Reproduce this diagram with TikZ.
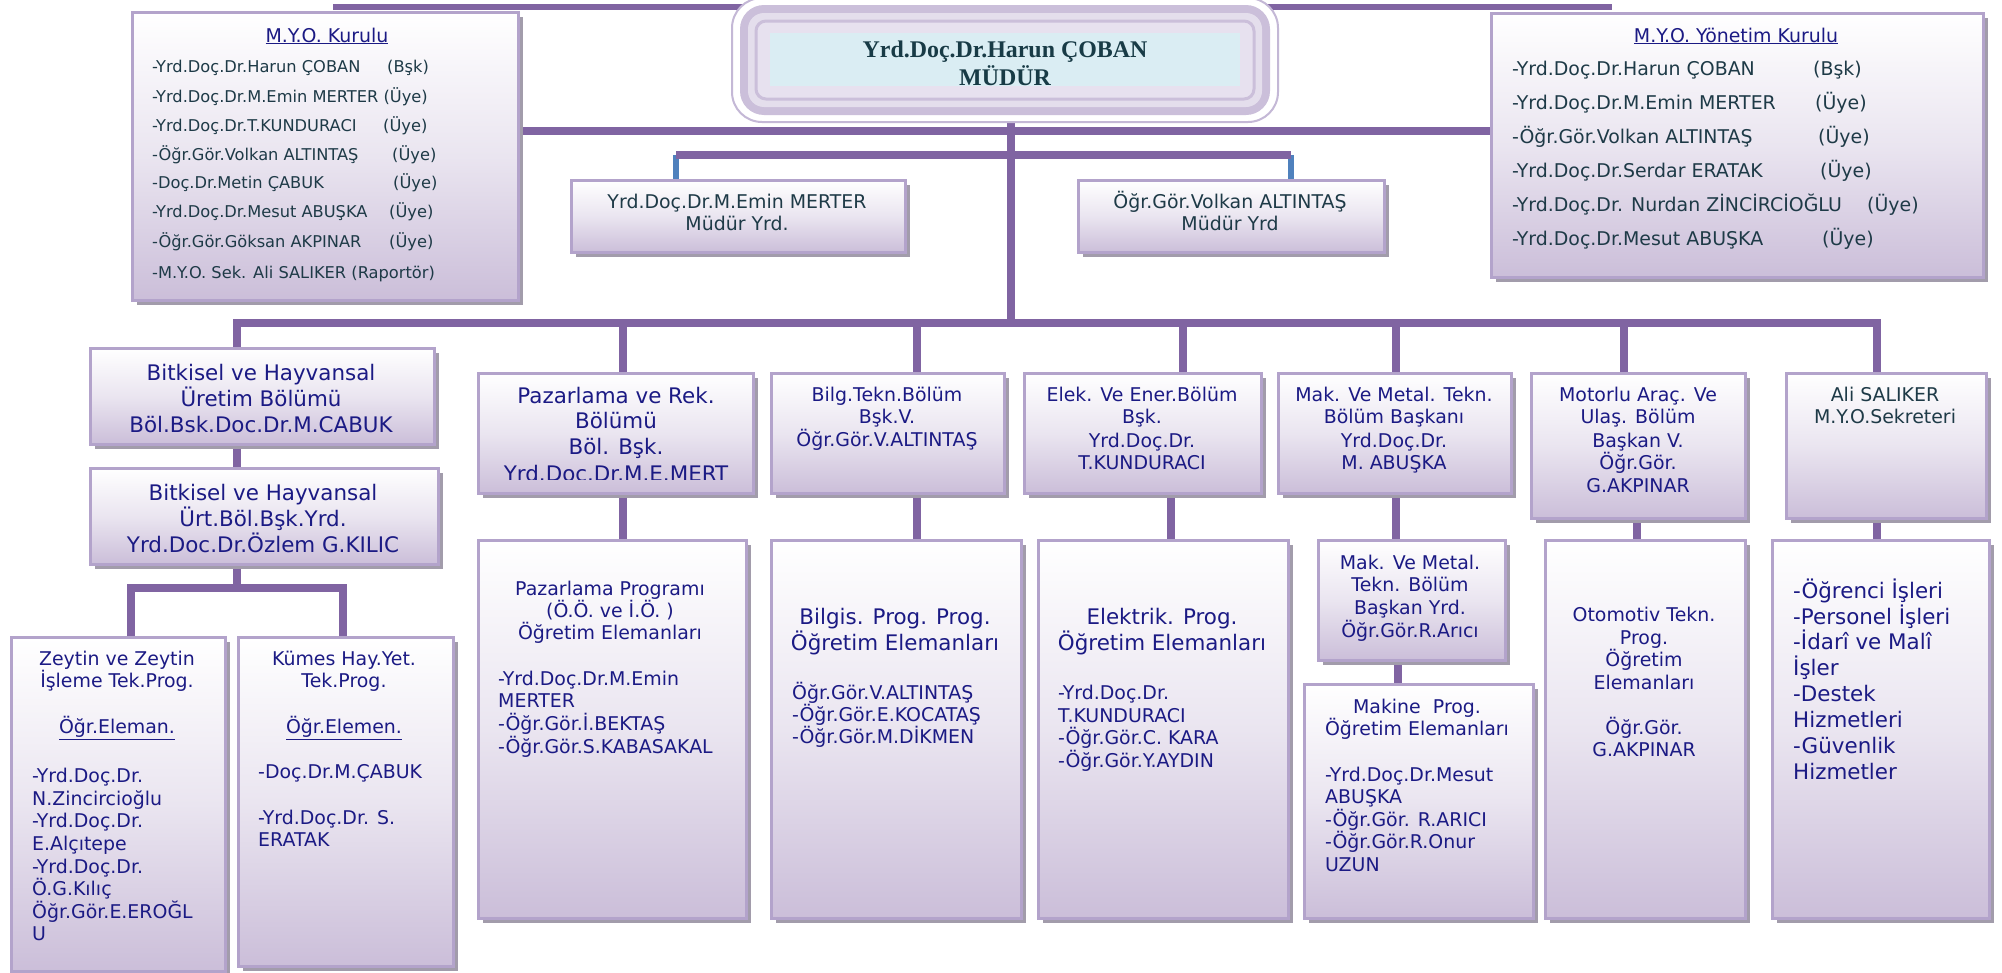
\documentclass[tikz,border=0pt]{standalone}
\usepackage{fontspec}
\setmainfont{DejaVu Sans}
\newfontfamily\serifb{Liberation Serif}
\usetikzlibrary{shadows,backgrounds}
\definecolor{purp}{HTML}{8064A2}
\definecolor{bluec}{HTML}{4F81BD}
\definecolor{bord}{HTML}{B3A3CB}
\definecolor{lavb}{HTML}{CBBED9}
\definecolor{lavm}{HTML}{EAE5F0}
\definecolor{shad}{HTML}{A29CAB}
\definecolor{navy}{HTML}{1B1A84}
\definecolor{slate}{HTML}{1E3A47}
\definecolor{mteal}{HTML}{183B46}
\definecolor{mband}{HTML}{CBBFDA}
\definecolor{mlight}{HTML}{E4DEEC}
\definecolor{mlightb}{HTML}{E7E1EF}
\definecolor{mblue}{HTML}{DAEDF3}
\definecolor{mline}{HTML}{C4B8D6}
\newcommand\fsS{\fontsize{16.3}{19}\selectfont}
\newcommand\fsM{\fontsize{19}{23}\selectfont}
\newcommand\fsL{\fontsize{21.5}{26}\selectfont}
\newcommand\bx[5]{\node[box, minimum width=#4bp, minimum height=#5bp] (#1) at (#2,#3) {};}
\newcommand\txt[6]{\foreach \lineY/\lineT [count=\lineN] in {#6}{\node[tx, #2, anchor=#4] (#1\lineN) at (#3,\lineY+#5) {\lineT};}}
\begin{document}
\begin{tikzpicture}[x=1bp,y=-1bp,
  conn/.style={draw=purp, line width=8bp},
  bstub/.style={draw=bluec, line width=6bp},
  box/.style={draw=bord, line width=2.5bp, top color=white, bottom color=lavb, middle color=lavm,
    drop shadow={shadow xshift=5bp, shadow yshift=-5bp, fill=shad, opacity=1},
    inner sep=0pt, anchor=north west},
  tx/.style={inner sep=0pt}]
\useasboundingbox (0,0) rectangle (2002,973);
\begin{scope}[on background layer]
\fill[white] (0,0) rectangle (2002,973);
\end{scope}

% Mudur box
\node[draw=mline, line width=2bp, fill=white, rounded corners=30bp, minimum width=546bp, minimum height=124bp, inner sep=0pt] (mudur) at (1005,60) {};
\fill[mband, rounded corners=24bp] (740,5) rectangle (1270,115);
\fill[mlight, rounded corners=16bp] (748,13) rectangle (1262,107);
\draw[mband, line width=3bp, fill=mlightb, rounded corners=10bp] (756,21) rectangle (1254,99);
\fill[mblue] (770,33) rectangle (1240,86);
\node[tx, text=mteal, font=\serifb\bfseries\fontsize{24}{28}\selectfont, anchor=base] (md1) at (1005,57) {Yrd.Doç.Dr.Harun ÇOBAN};
\node[tx, text=mteal, font=\serifb\bfseries\fontsize{24}{28}\selectfont, anchor=base] (md2) at (1005,85) {MÜDÜR};

% boxes
\bx{kur}{131}{11}{386}{288}
\bx{yon}{1490}{12}{492}{264}
\bx{yrdA}{570}{179}{334}{72}
\bx{yrdB}{1077}{179}{306}{72}
\bx{bit1}{89}{347}{344}{96}
\bx{bit2}{89}{467}{348}{96}
\bx{zey}{10}{636}{214}{334}
\bx{kum}{237}{636}{215}{329}
\bx{pazA}{477}{372}{275}{120}
\bx{bilA}{770}{372}{233}{120}
\bx{eleA}{1023}{372}{237}{120}
\bx{makA}{1277}{372}{233}{120}
\bx{motA}{1530}{372}{214}{145}
\bx{aliA}{1785}{372}{200}{145}
\bx{pazB}{477}{539}{268}{378}
\bx{bilB}{770}{539}{250}{378}
\bx{eleB}{1037}{539}{250}{378}
\bx{makY}{1317}{539}{187}{120}
\bx{makB}{1303}{683}{229}{234}
\bx{oto}{1544}{539}{200}{378}
\bx{aliB}{1771}{539}{217}{378}

% Kurulu
\node[tx, text=navy, font=\fsM, anchor=base] (kt) at (327,42) {\underline{M.Y.O. Kurulu}};
\txt{k}{text=slate, font=\fsS}{152}{base west}{5.5}{67/-Yrd.Doç.Dr.Harun ÇOBAN, 97/-Yrd.Doç.Dr.M.Emin MERTER (Üye), 126/-Yrd.Doç.Dr.T.KUNDURACI, 155/-Öğr.Gör.Volkan ALTINTAŞ, 183/-Doç.Dr.Metin ÇABUK, 212/-Yrd.Doç.Dr.Mesut ABUŞKA, 242/-Öğr.Gör.Göksan AKPINAR, 273/-M.Y.O. Sek. Ali SALIKER (Raportör)}
\foreach \px/\py/\pt [count=\pn] in {387/67/{(Bşk)}, 383/126/{(Üye)}, 392/155/{(Üye)}, 393/183/{(Üye)}, 389/212/{(Üye)}, 389/242/{(Üye)}}
  {\node[tx, text=slate, font=\fsS, anchor=base west] (kp\pn) at (\px,\py+5.5) {\pt};}

% Yonetim
\node[tx, text=navy, font=\fsM, anchor=base] (yt) at (1736,42) {\underline{M.Y.O. Yönetim Kurulu}};
\txt{y}{text=slate, font=\fsM}{1512}{base west}{6.5}{69/-Yrd.Doç.Dr.Harun ÇOBAN, 103/-Yrd.Doç.Dr.M.Emin MERTER, 137/-Öğr.Gör.Volkan ALTINTAŞ, 171/-Yrd.Doç.Dr.Serdar ERATAK, 205/-Yrd.Doç.Dr. Nurdan ZİNCİRCİOĞLU, 239/-Yrd.Doç.Dr.Mesut ABUŞKA}
\foreach \px/\py/\pt [count=\pn] in {1813/69/{(Bşk)}, 1815/103/{(Üye)}, 1818/137/{(Üye)}, 1820/171/{(Üye)}, 1867/205/{(Üye)}, 1822/239/{(Üye)}}
  {\node[tx, text=slate, font=\fsM, anchor=base west] (yp\pn) at (\px,\py+6.5) {\pt};}

% Mudur yrd
\txt{ya}{text=slate, font=\fsM}{737}{base}{6.5}{202/Yrd.Doç.Dr.M.Emin MERTER, 224/Müdür Yrd.}
\txt{yb}{text=slate, font=\fsM}{1230}{base}{6.5}{202/Öğr.Gör.Volkan ALTINTAŞ, 224/Müdür Yrd}

% Bitkisel
\txt{ba}{text=navy, font=\fsL}{261}{base}{7.5}{373/Bitkisel ve Hayvansal, 399/Üretim Bölümü, 425/Böl.Bsk.Doc.Dr.M.CABUK}
\txt{bb}{text=navy, font=\fsL}{263}{base}{7.5}{493/Bitkisel ve Hayvansal, 519/Ürt.Böl.Bşk.Yrd., 545/Yrd.Doc.Dr.Özlem G.KILIC}

% Zeytin / Kumes
\txt{za}{text=navy, font=\fsM}{117}{base}{6.5}{659/Zeytin ve Zeytin, 681/İşleme Tek.Prog., 727/{\underline{Öğr.Eleman.}}}
\txt{zb}{text=navy, font=\fsM}{32}{base west}{6.5}{776/-Yrd.Doç.Dr., 799/N.Zincircioğlu, 821/-Yrd.Doç.Dr., 844/E.Alçıtepe, 867/-Yrd.Doç.Dr., 889/Ö.G.Kılıç, 912/Öğr.Gör.E.EROĞL, 934/U}
\txt{ka}{text=navy, font=\fsM}{344}{base}{6.5}{659/Kümes Hay.Yet., 681/Tek.Prog., 727/{\underline{Öğr.Elemen.}}}
\txt{kb}{text=navy, font=\fsM}{258}{base west}{6.5}{772/-Doç.Dr.M.ÇABUK, 818/-Yrd.Doç.Dr. S., 840/ERATAK}

% departments
\begin{scope}
\clip (478,373) rectangle (751,479);
\txt{pa}{text=navy, font=\fsL}{616}{base}{7.8}{396/Pazarlama ve Rek., 421/Bölümü, 447/Böl. Bşk., 474/Yrd.Doc.Dr.M.E.MERT}
\end{scope}
\txt{bl}{text=navy, font=\fsM}{887}{base}{6.5}{395/Bilg.Tekn.Bölüm, 417/Bşk.V., 440/Öğr.Gör.V.ALTINTAŞ}
\txt{el}{text=navy, font=\fsM}{1142}{base}{6.5}{395/Elek. Ve Ener.Bölüm, 417/Bşk., 441/Yrd.Doç.Dr., 463/T.KUNDURACI}
\txt{mk}{text=navy, font=\fsM}{1394}{base}{6.5}{395/Mak. Ve Metal. Tekn., 417/Bölüm Başkanı, 441/Yrd.Doç.Dr., 463/M. ABUŞKA}
\txt{mo}{text=navy, font=\fsM}{1638}{base}{6.5}{395/Motorlu Araç. Ve, 417/Ulaş. Bölüm, 441/Başkan V., 463/Öğr.Gör., 486/G.AKPINAR}
\txt{al}{text=slate, font=\fsM}{1885}{base}{6.5}{395/Ali SALIKER, 417/M.Y.O.Sekreteri}

% programmes
\txt{pb}{text=navy, font=\fsM}{610}{base}{6.5}{589/Pazarlama Programı, 611/{(Ö.Ö. ve İ.Ö. )}, 633/Öğretim Elemanları}
\txt{pc}{text=navy, font=\fsM}{498}{base west}{6.5}{679/-Yrd.Doç.Dr.M.Emin, 701/MERTER, 724/-Öğr.Gör.İ.BEKTAŞ, 747/-Öğr.Gör.S.KABASAKAL}
\txt{bh}{text=navy, font=\fsL}{895}{base}{7.5}{617/Bilgis. Prog. Prog., 643/Öğretim Elemanları}
\txt{bc}{text=navy, font=\fsM}{792}{base west}{6.5}{693/Öğr.Gör.V.ALTINTAŞ, 715/-Öğr.Gör.E.KOCATAŞ, 737/-Öğr.Gör.M.DİKMEN}
\txt{eh}{text=navy, font=\fsL}{1162}{base}{7.5}{617/Elektrik. Prog., 643/Öğretim Elemanları}
\txt{ec}{text=navy, font=\fsM}{1058}{base west}{6.5}{693/-Yrd.Doç.Dr., 716/T.KUNDURACI, 738/-Öğr.Gör.C. KARA, 761/-Öğr.Gör.Y.AYDIN}
\txt{my}{text=navy, font=\fsM}{1410}{base}{6.5}{563/Mak. Ve Metal., 585/Tekn. Bölüm, 608/Başkan Yrd., 631/Öğr.Gör.R.Arıcı}
\txt{mh}{text=navy, font=\fsM}{1417}{base}{6.5}{707/Makine\ \ Prog., 729/Öğretim Elemanları}
\txt{mc}{text=navy, font=\fsM}{1325}{base west}{6.5}{775/-Yrd.Doç.Dr.Mesut, 797/ABUŞKA, 820/-Öğr.Gör. R.ARICI, 842/-Öğr.Gör.R.Onur, 865/UZUN}
\txt{ot}{text=navy, font=\fsM}{1644}{base}{6.5}{615/Otomotiv Tekn., 638/Prog., 660/Öğretim, 683/Elemanları, 728/Öğr.Gör., 750/G.AKPINAR}
\txt{ab}{text=navy, font=\fsL}{1793}{base west}{7.5}{591/-Öğrenci İşleri, 617/-Personel İşleri, 642/-İdarî ve Malî, 668/İşler, 694/-Destek, 720/Hizmetleri, 746/-Güvenlik, 772/Hizmetler}

% connectors
\coordinate (t1) at (333,7);
\coordinate (t2) at (1612,7);
\coordinate (h2) at (0,131);
\coordinate (h3a) at (676,155);
\coordinate (h3b) at (1291,155);
\coordinate (tk) at (1011,323);
\coordinate (b1) at (237,323);
\coordinate (b2) at (623,323);
\coordinate (b3) at (917,323);
\coordinate (b4) at (1183,323);
\coordinate (b5) at (1396,323);
\coordinate (b6) at (1624,323);
\coordinate (b7) at (1877,323);
\coordinate (e2) at (1171,0);
\coordinate (m2) at (1398,0);
\coordinate (o2) at (1637,0);
\coordinate (cB) at (237,588);
\coordinate (cZ) at (131,588);
\coordinate (cK) at (343,588);
\begin{scope}[on background layer]
\draw[conn, line width=6bp] (t1) -- (t2);
\draw[conn] (kur.east |- h2) -- (yon.west |- h2);
\draw[bstub] (h3a) -- (yrdA.north -| h3a);
\draw[bstub] (h3b) -- (yrdB.north -| h3b);
\draw[conn] (h3a) -- (h3b);
\draw[conn] (mudur.south -| tk) -- (tk);
\draw[conn] (bit1.north -| b1) -- (b1) -- (b7) -- (aliA.north -| b7);
\draw[conn] (b2) -- (pazA.north -| b2);
\draw[conn] (b3) -- (bilA.north -| b3);
\draw[conn] (b4) -- (eleA.north -| b4);
\draw[conn] (b5) -- (makA.north -| b5);
\draw[conn] (b6) -- (motA.north -| b6);
\draw[conn] (bit1.south -| b1) -- (bit2.north -| b1);
\draw[conn] (bit2.south -| cB) -- (cB);
\draw[conn] (zey.north -| cZ) -- (cZ) -- (cK) -- (kum.north -| cK);
\draw[conn] (pazA.south -| b2) -- (pazB.north -| b2);
\draw[conn] (bilA.south -| b3) -- (bilB.north -| b3);
\draw[conn] (eleA.south -| e2) -- (eleB.north -| e2);
\draw[conn] (makA.south -| b5) -- (makY.north -| b5);
\draw[conn] (makY.south -| m2) -- (makB.north -| m2);
\draw[conn] (motA.south -| o2) -- (oto.north -| o2);
\draw[conn] (aliA.south -| b7) -- (aliB.north -| b7);
\end{scope}
\end{tikzpicture}
\end{document}
